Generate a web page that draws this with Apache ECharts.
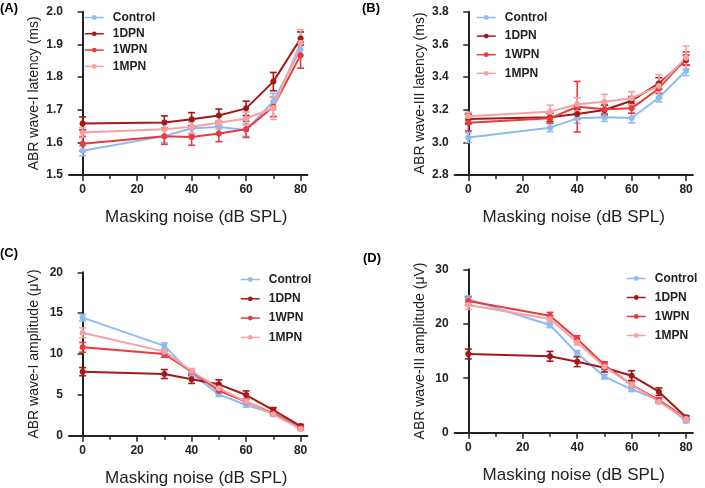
<!DOCTYPE html>
<html>
<head>
<meta charset="utf-8">
<script src="https://cdn.jsdelivr.net/npm/echarts@6/dist/echarts.min.js"></script>
<style>html,body{margin:0;padding:0;background:#fff}#c{width:705px;height:488px}</style>
</head>
<body>
<div id="c"></div>
<script>
// ---- data ----
const xVals = [0, 30, 40, 50, 60, 70, 80];
const xTicks = [0, 20, 40, 60, 80];
const xMinorTicks = [10, 30, 50, 70];
const groups = ['Control', '1DPN', '1WPN', '1MPN'];

// Panel A: ABR wave-I latency (ms)
const A_control = [1.574, 1.619, 1.643, 1.647, 1.638, 1.725, 1.885];
const A_1dpn    = [1.658, 1.661, 1.671, 1.682, 1.704, 1.786, 1.918];
const A_1wpn    = [1.596, 1.619, 1.616, 1.627, 1.640, 1.709, 1.867];
const A_1mpn    = [1.630, 1.640, 1.648, 1.660, 1.673, 1.705, 1.905];
const A_control_err = [0.015, 0.02, 0.02, 0.02, 0.02, 0.025, 0.02];
const A_1dpn_err    = [0.02, 0.02, 0.02, 0.02, 0.022, 0.028, 0.02];
const A_1wpn_err    = [0.022, 0.025, 0.025, 0.025, 0.025, 0.03, 0.04];
const A_1mpn_err    = [0.015, 0.02, 0.02, 0.02, 0.02, 0.035, 0.04];

// Panel B: ABR wave-III latency (ms)
const B_control = [3.029, 3.090, 3.147, 3.153, 3.149, 3.273, 3.439];
const B_1dpn    = [3.143, 3.153, 3.173, 3.198, 3.255, 3.361, 3.504];
const B_1wpn    = [3.120, 3.147, 3.218, 3.202, 3.208, 3.330, 3.514];
const B_1mpn    = [3.160, 3.188, 3.233, 3.249, 3.270, 3.345, 3.520];
const B_control_err = [0.03, 0.025, 0.03, 0.025, 0.03, 0.025, 0.03];
const B_1dpn_err    = [0.03, 0.025, 0.03, 0.03, 0.025, 0.035, 0.03];
const B_1wpn_err    = [0.05, 0.03, 0.155, 0.03, 0.03, 0.03, 0.04];
const B_1mpn_err    = [0.025, 0.04, 0.04, 0.045, 0.04, 0.07, 0.07];

// Panel C: ABR wave-I amplitude (µV)
const C_control = [14.45, 11.0, 7.6, 5.06, 3.76, 2.73, 1.1];
const C_1dpn    = [7.84, 7.55, 6.9, 6.29, 4.98, 3.14, 1.18];
const C_1wpn    = [10.82, 10.0, 7.84, 5.51, 4.16, 2.73, 0.9];
const C_1mpn    = [12.6, 10.29, 7.92, 5.8, 4.16, 2.6, 0.82];
const C_control_err = [0.4, 0.35, 0.3, 0.25, 0.25, 0.2, 0.2];
const C_1dpn_err    = [0.5, 0.55, 0.5, 0.55, 0.5, 0.3, 0.2];
const C_1wpn_err    = [0.6, 0.4, 0.35, 0.3, 0.3, 0.2, 0.2];
const C_1mpn_err    = [0.6, 0.3, 0.3, 0.3, 0.3, 0.2, 0.2];

// Panel D: ABR wave-III amplitude (µV)
const D_control = [24.5, 19.78, 14.57, 10.29, 7.96, 6.0, 2.14];
const D_1dpn    = [14.45, 14.02, 13.04, 11.94, 10.47, 7.53, 2.82];
const D_1wpn    = [24.19, 21.49, 17.2, 12.43, 8.76, 6.0, 2.63];
const D_1mpn    = [23.45, 20.88, 16.6, 12.12, 8.76, 5.69, 2.51];
const D_control_err = [0.6, 0.5, 0.5, 0.4, 0.4, 0.4, 0.3];
const D_1dpn_err    = [0.9, 0.9, 0.9, 0.8, 0.9, 0.7, 0.3];
const D_1wpn_err    = [0.7, 0.6, 0.6, 0.6, 0.5, 0.4, 0.3];
const D_1mpn_err    = [0.8, 0.5, 0.5, 0.5, 0.4, 0.4, 0.3];

const yNames = ['ABR wave-I latency (ms)', 'ABR wave-III latency (ms)', 'ABR wave-I amplitude (μV)', 'ABR wave-III amplitude (μV)'];
const xName = 'Masking noise (dB SPL)';
const panelLabels = ['(A)', '(B)', '(C)', '(D)'];
const yMin = [1.5, 2.8, 0, 0];
const yMax = [2.0, 3.8, 20, 30];
const yInterval = [0.1, 0.2, 5, 10];
const yDecimals = [1, 1, 0, 0];

const panelMeans = [
  [A_control, A_1dpn, A_1wpn, A_1mpn],
  [B_control, B_1dpn, B_1wpn, B_1mpn],
  [C_control, C_1dpn, C_1wpn, C_1mpn],
  [D_control, D_1dpn, D_1wpn, D_1mpn]
];
const panelErrs = [
  [A_control_err, A_1dpn_err, A_1wpn_err, A_1mpn_err],
  [B_control_err, B_1dpn_err, B_1wpn_err, B_1mpn_err],
  [C_control_err, C_1dpn_err, C_1wpn_err, C_1mpn_err],
  [D_control_err, D_1dpn_err, D_1wpn_err, D_1mpn_err]
];

// ---- styles / layout ----
const colors = ['#8fbaf0', '#a51818', '#ea3a3e', '#f4a2a2'];
const FONT = 'Arial, "Liberation Sans", sans-serif';
const AX = '#222';
const grids = [
  { left: 69, top: 11.7, width: 238.4, height: 163.3 },
  { left: 454.7, top: 11.7, width: 238.2, height: 163.3 },
  { left: 69, top: 272.3, width: 238.4, height: 163.4 },
  { left: 454.7, top: 269.3, width: 238.2, height: 163.4 }
];
const legendPos = [
  { left: 84, top: 11.5, itemGap: 4.3 },
  { left: 476, top: 11.5, itemGap: 6.6 },
  { left: 240, top: 273.5, itemGap: 7.3 },
  { left: 626, top: 272.5, itemGap: 7 }
];
const xNamePad = [[0, 0, 0, 16], [0, 0, 0, 0], [0, 0, 0, 16], [0, 0, 0, 0]];
const labelPos = [[0, 2], [362, 2], [0, 247], [363, 252]];

const xAxes = [], yAxes = [], series = [], legends = [], graphics = [];
grids.forEach((g, i) => {
  xAxes.push({
    gridIndex: i, type: 'value', min: -5, max: 82.5,
    name: xName, nameLocation: 'middle', nameGap: 34,
    nameTextStyle: { fontFamily: FONT, fontSize: 17, color: AX, padding: xNamePad[i] },
    axisLine: { show: true, lineStyle: { color: AX, width: 2 } },
    axisTick: { show: true, customValues: xTicks, length: 6, lineStyle: { color: AX, width: 1.5 } },
    axisLabel: { customValues: xTicks, fontFamily: FONT, fontSize: 12, fontWeight: 'bold', color: AX, margin: 9 },
    splitLine: { show: false }
  });
  xAxes.push({
    gridIndex: i, type: 'value', min: -5, max: 82.5, position: 'bottom',
    axisLine: { show: false },
    axisTick: { show: true, customValues: xMinorTicks, length: 4, lineStyle: { color: AX, width: 1.5 } },
    axisLabel: { show: false },
    splitLine: { show: false }
  });
  yAxes.push({
    gridIndex: i, type: 'value', min: yMin[i], max: yMax[i], interval: yInterval[i],
    name: yNames[i], nameLocation: 'middle', nameGap: 28,
    nameTextStyle: { fontFamily: FONT, fontSize: 14, color: AX },
    axisLine: { show: true, lineStyle: { color: AX, width: 2 } },
    axisTick: { show: true, length: 5, lineStyle: { color: AX, width: 1.5 } },
    axisLabel: { fontFamily: FONT, fontSize: 12, fontWeight: 'bold', color: AX, margin: 6,
      formatter: (v => v.toFixed(yDecimals[i])) },
    splitLine: { show: false }
  });
  groups.forEach((name, k) => {
    const mean = panelMeans[i][k], err = panelErrs[i][k];
    series.push({
      type: 'custom', name: name + ' err', xAxisIndex: i * 2, yAxisIndex: i, silent: true, clip: false,
      data: xVals.map((x, j) => [x, mean[j] - err[j], mean[j] + err[j]]),
      renderItem: (params, api) => {
        const x = api.value(0);
        const lo = api.coord([x, api.value(1)]);
        const hi = api.coord([x, api.value(2)]);
        const hw = 3.5;
        const st = { stroke: colors[k], lineWidth: 1.6 };
        return { type: 'group', children: [
          { type: 'line', shape: { x1: hi[0], y1: hi[1], x2: lo[0], y2: lo[1] }, style: st },
          { type: 'line', shape: { x1: hi[0] - hw, y1: hi[1], x2: hi[0] + hw, y2: hi[1] }, style: st },
          { type: 'line', shape: { x1: lo[0] - hw, y1: lo[1], x2: lo[0] + hw, y2: lo[1] }, style: st }
        ]};
      },
      z: 2
    });
    series.push({
      type: 'line', name: name, xAxisIndex: i * 2, yAxisIndex: i,
      data: xVals.map((x, j) => [x, mean[j]]),
      symbol: 'circle', symbolSize: 6, showSymbol: true,
      lineStyle: { color: colors[k], width: 2 },
      itemStyle: { color: colors[k] },
      animation: false, z: 3
    });
  });
  legends.push({
    data: groups, orient: 'vertical', left: legendPos[i].left, top: legendPos[i].top,
    itemGap: legendPos[i].itemGap, itemWidth: 19, itemHeight: 6, selectedMode: false,
    padding: 0, lineStyle: { width: 1.5 },
    textStyle: { fontFamily: FONT, fontSize: 12, fontWeight: 'bold', color: AX, lineHeight: 12, padding: [0, 0, 0, 4] }
  });
  graphics.push({
    type: 'text', left: labelPos[i][0], top: labelPos[i][1],
    style: { text: panelLabels[i], font: 'bold 13px ' + FONT, fill: '#000' }
  });
});

const chart = echarts.init(document.getElementById('c'), null, { renderer: 'canvas' });
chart.setOption({
  animation: false,
  backgroundColor: '#fff',
  color: colors,
  grid: grids,
  xAxis: xAxes,
  yAxis: yAxes,
  legend: legends,
  series: series,
  graphic: graphics
});
</script>
</body>
</html>
